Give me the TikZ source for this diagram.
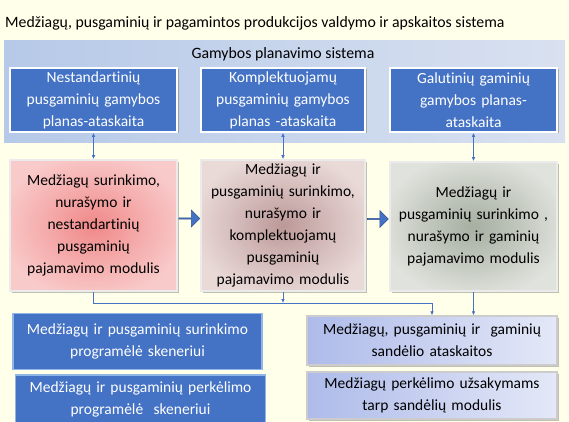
\documentclass[tikz,border=0pt]{standalone}
\usepackage{fontspec}
\setmainfont{Carlito}[Ligatures={NoCommon}]
\usetikzlibrary{shadows,shapes.arrows,arrows.meta,calc}
\definecolor{bgc}{HTML}{FFFFEA}
\definecolor{planL}{HTML}{B6C9E8}
\definecolor{planR}{HTML}{D9E1F0}
\definecolor{mblue}{HTML}{4472C4}
\definecolor{dblue}{HTML}{2F528F}
\definecolor{lblue}{HTML}{8FB6E6}
\definecolor{cdL}{HTML}{AEBBEA}
\definecolor{cdR}{HTML}{E4E8F7}
\definecolor{mAin}{HTML}{F08888}
\definecolor{mAout}{HTML}{F9CACA}
\definecolor{mBin}{HTML}{BC9898}
\definecolor{mBout}{HTML}{E9DAD8}
\definecolor{mCin}{HTML}{A6AFA2}
\definecolor{mCout}{HTML}{E0E3DD}
\pgfdeclareradialshading{glowA}{\pgfpoint{0bp}{0bp}}{color(0bp)=(mAin); color(12bp)=(mAin!55!mAout); color(28bp)=(mAout); color(50bp)=(mAout)}
\pgfdeclareradialshading{glowB}{\pgfpoint{0bp}{0bp}}{color(0bp)=(mBin); color(12bp)=(mBin!55!mBout); color(28bp)=(mBout); color(50bp)=(mBout)}
\pgfdeclareradialshading{glowC}{\pgfpoint{0bp}{0bp}}{color(0bp)=(mCin); color(12bp)=(mCin!60!mCout); color(28bp)=(mCout); color(50bp)=(mCout)}
\begin{document}
\begin{tikzpicture}[x=1pt,y=-1pt,
  btxt/.style={font=\fontsize{15.5}{22}\selectfont, align=center},
  shad/.style={drop shadow={shadow xshift=1.5pt, shadow yshift=-1.5pt, opacity=0.35, fill=black!70}},
  planbox/.style={left color=planL, right color=planR, draw=none, inner sep=0},
  topbox/.style={btxt, fill=mblue, draw=white, line width=1.6pt, text=white, inner sep=0, shad},
  midbox/.style={btxt, draw=white!92!black, line width=1.6pt, inner sep=0, shad},
  leftbox/.style={btxt, fill=mblue, draw=lblue, line width=1.4pt, text=white, inner sep=0},
  rightbox/.style={btxt, left color=cdL, right color=cdR, draw=white!80!black, line width=1.4pt, inner sep=0, shad},
  conn/.style={draw=mblue, line width=0.8pt},
  tip/.style={-{Latex[length=4pt,width=3.6pt]}},
  bigarrow/.style={single arrow, fill=mblue, draw=dblue, line width=0.6pt, minimum height=21pt, minimum width=17pt, single arrow head extend=4pt, inner sep=0}
]
\fill[bgc] (0,0) rectangle (569,422);
\useasboundingbox (0,0) rectangle (569,422);

\node[anchor=base west, font=\fontsize{15.8}{19}\selectfont, inner sep=0] (title) at (5,28)
  {Medžiagų, pusgaminių ir pagamintos produkcijos valdymo ir apskaitos sistema};

\node[planbox, minimum width=561pt, minimum height=102pt] (plan) at (284.5,92) {};
\node[anchor=base, font=\fontsize{15.8}{19}\selectfont, inner sep=0] (plantitle) at (283,59) {Gamybos planavimo sistema};

\node[topbox, minimum width=167pt, minimum height=64pt, text width=162pt] (t1) at (93.5,100)
  {Nestandartinių\\pusgaminių gamybos\\planas-ataskaita};
\node[topbox, minimum width=164pt, minimum height=64pt, text width=160pt] (t2) at (283,100)
  {Komplektuojamų\\pusgaminių gamybos\\planas -ataskaita};
\node[topbox, minimum width=167pt, minimum height=64pt, text width=162pt] (t3) at (473.5,100)
  {Galutinių gaminių\\gamybos planas-\\ataskaita};

\node[midbox, shading=glowA, minimum width=167pt, minimum height=131pt, text width=160pt] (m1) at (93.5,225.5)
  {Medžiagų surinkimo,\\nurašymo ir\\nestandartinių\\pusgaminių\\pajamavimo modulis};
\node[midbox, shading=glowB, minimum width=164pt, minimum height=131pt, text width=160pt] (m2) at (283,225.5)
  {Medžiagų ir\\pusgaminių surinkimo,\\nurašymo ir\\komplektuojamų\\pusgaminių\\pajamavimo modulis};
\node[midbox, shading=glowC, minimum width=167pt, minimum height=129pt, text width=162pt] (m3) at (473.5,226.5)
  {Medžiagų ir\\pusgaminių surinkimo ,\\nurašymo ir gaminių\\pajamavimo modulis};

\node[bigarrow] (a12) at ($(m1.east)!0.5!(m2.west)+(0,-7)$) {};
\node[bigarrow] (a23) at ($(m2.east)!0.5!(m3.west)+(0,-7)$) {};

\draw[conn, {Latex[length=4pt,width=3.6pt]}-{Latex[length=4pt,width=3.6pt]}] (t1.south) -- (m1.north);
\draw[conn, {Latex[length=4pt,width=3.6pt]}-{Latex[length=4pt,width=3.6pt]}] (t2.south) -- (m2.north);
\draw[conn, {Latex[length=4pt,width=3.6pt]}-{Latex[length=4pt,width=3.6pt]}] (t3.south) -- (m3.north);

\node[leftbox, minimum width=249pt, minimum height=56pt, text width=240pt] (b1) at (137.5,341.5)
  {Medžiagų ir pusgaminių surinkimo\\programėlė skeneriui};
\node[leftbox, minimum width=250pt, minimum height=48pt, text width=240pt] (b2) at (140.5,399)
  {Medžiagų ir pusgaminių perkėlimo\\programėlė\ \ skeneriui};

\node[rightbox, minimum width=250pt, minimum height=49pt, text width=244pt] (r1) at (432,340.5)
  {Medžiagų, pusgaminių ir\ \ gaminių\\sandėlio ataskaitos};
\node[rightbox, minimum width=250pt, minimum height=47pt, text width=244pt] (r2) at (432,395.5)
  {Medžiagų perkėlimo užsakymams\\tarp sandėlių modulis};

\coordinate (bus) at (0,303);
\draw[conn, tip] (m1.south) -- (m1.south |- bus) -| (r1.north);
\draw[conn, tip] (m2.south) -- (m2.south |- bus);
\draw[conn, tip] (m3.south) -- (m3.south |- r1.north);
\end{tikzpicture}
\end{document}
